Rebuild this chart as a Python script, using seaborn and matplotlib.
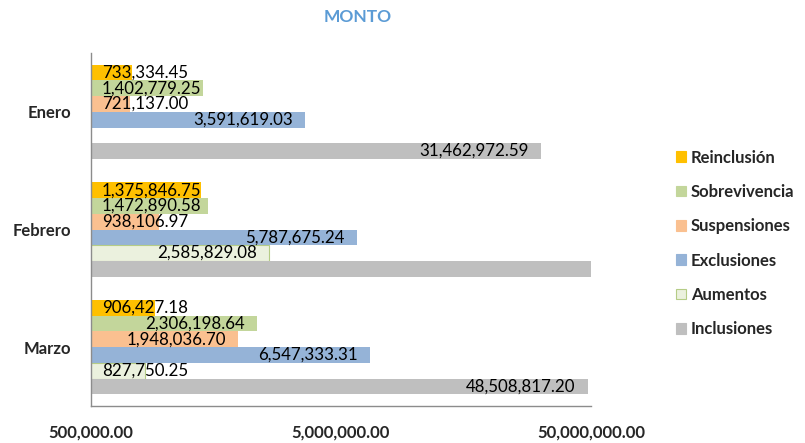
import numpy as np
import pandas as pd
import matplotlib
matplotlib.use("Agg")
import matplotlib.pyplot as plt
import seaborn as sns
from matplotlib.patches import Patch

# --- Datos del grafico ---
meses = ["Enero", "Febrero", "Marzo"]
series = ["Reinclusión", "Sobrevivencia", "Suspensiones", "Exclusiones", "Aumentos", "Inclusiones"]
reinclusion = [733334.45, 1375846.75, 906427.18]
sobrevivencia = [1402779.25, 1472890.58, 2306198.64]
suspensiones = [721137.00, 938106.97, 1948036.70]
exclusiones = [3591619.03, 5787675.24, 6547333.31]
aumentos = [np.nan, 2585829.08, 827750.25]  # enero sin aumentos
inclusiones = [31462972.59, 55000000.00, 48508817.20]  # febrero se sale del eje (estimado)
colores = ["#FFC000", "#C3D69B", "#FAC090", "#95B3D7", "#EBF1DE", "#BFBFBF"]
ticks_x = [500000, 5000000, 50000000]

valores = [reinclusion, sobrevivencia, suspensiones, exclusiones, aumentos, inclusiones]
filas = []
for serie, vals in zip(series, valores):
    for mes, v in zip(meses, vals):
        if not np.isnan(v):
            filas.append({"mes": mes, "serie": serie, "monto": v})
df = pd.DataFrame(filas)

sns.set_style("white")
plt.rcParams['font.family'] = ['Lato', 'DejaVu Sans']

fig = plt.figure(figsize=(8.05, 4.43), dpi=100)
ax = fig.add_axes([90.7 / 805, 1 - 406 / 443, (591 - 90.7) / 805, (406 - 53) / 443])

sns.barplot(data=df, x="monto", y="mes", hue="serie", order=meses, hue_order=series,
            palette=colores, saturation=1, orient="h", width=0.8, linewidth=0,
            errorbar=None, legend=False, ax=ax)
ax.set_xscale("log")
ax.set_xlim(5e5, 5e7)
ax.set_ylim(2.5, -0.5)

# borde verde para Aumentos
for serie, cont in zip(series, ax.containers):
    if serie == "Aumentos":
        for b in cont:
            b.set_edgecolor("#B5CC86")
            b.set_linewidth(0.8)

# etiquetas de datos (dentro del extremo, sin salirse del eje)
etiquetas = []
for cont in ax.containers:
    for b in cont:
        w = b.get_width()
        if not np.isfinite(w) or w > 5e7:
            continue
        yc = b.get_y() + b.get_height() / 2
        t = ax.annotate(f"{w:,.2f}", xy=(w, yc), xytext=(-12, 0), textcoords="offset pixels",
                        ha="right", va="center", fontsize=12.2, color="#000000")
        etiquetas.append((t, yc))

fig.canvas.draw()
izq = ax.transAxes.transform((0, 0))[0]
for t, yc in etiquetas:
    bb = t.get_window_extent()
    if bb.x0 < izq + 11:
        t.xy = (5e5, yc)
        t.set_position((11, 0))
        t.set_ha("left")

ax.set_xticks(ticks_x)
ax.set_xticklabels([f"{v:,.2f}" for v in ticks_x], fontsize=12, fontweight="bold")
ax.xaxis.set_minor_locator(matplotlib.ticker.NullLocator())
ax.tick_params(axis="x", length=0, pad=13)
ax.tick_params(axis="y", length=0, pad=14)
for lbl in ax.get_yticklabels():
    lbl.set_fontsize(12)
    lbl.set_fontweight("bold")
ax.set_xlabel("")
ax.set_ylabel("")

for s in ["top", "right"]:
    ax.spines[s].set_visible(False)
for s in ["left", "bottom"]:
    ax.spines[s].set_color("#8C8C8C")
    ax.spines[s].set_linewidth(1)

fig.text(358 / 805, 1 - 16.7 / 443, "MONTO", ha="center", va="center",
         fontsize=12.5, fontweight="bold", color="#5B9BD5")

handles = []
for serie, c in zip(series, colores):
    ec = "#B5CC86" if serie == "Aumentos" else c
    handles.append(Patch(facecolor=c, edgecolor=ec, linewidth=0.8, label=serie))
leg = fig.legend(handles=handles, loc="center left", bbox_to_anchor=(676 / 805, 1 - 243.4 / 443),
                 frameon=False, borderpad=0, borderaxespad=0, handlelength=0.6, handleheight=0.6,
                 handletextpad=0.3, labelspacing=1.1, prop={"size": 12, "weight": "bold"})

fig.savefig("out.png", dpi=100)
